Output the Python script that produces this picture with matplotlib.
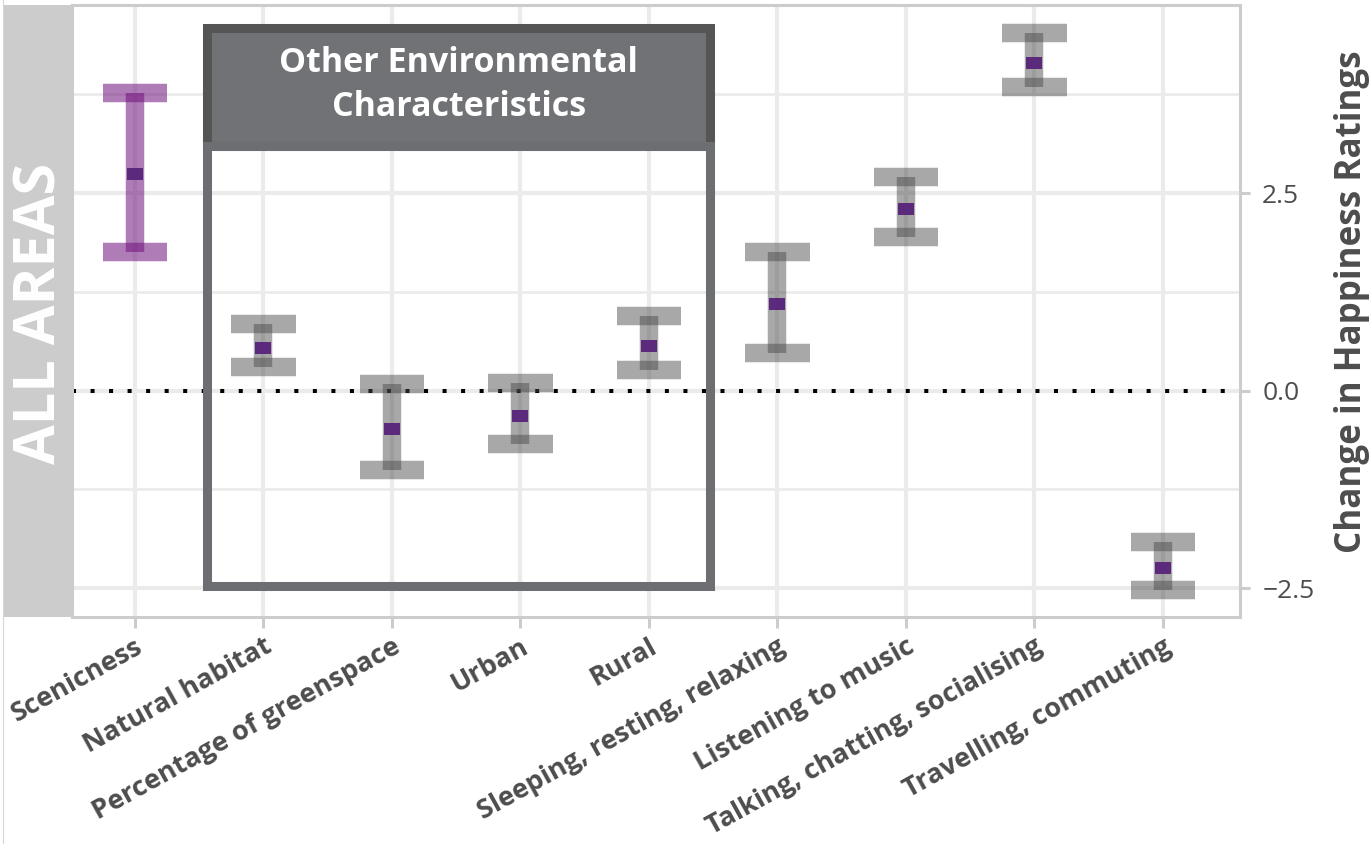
import matplotlib
matplotlib.use("Agg")
import matplotlib.pyplot as plt
from matplotlib.patches import Rectangle
from matplotlib.lines import Line2D
import numpy as np

# ---------------- data ----------------
categories = ["Scenicness", "Natural habitat", "Percentage of greenspace", "Urban", "Rural",
              "Sleeping, resting, relaxing", "Listening to music",
              "Talking, chatting, socialising", "Travelling, commuting"]
means = [2.74, 0.54, -0.49, -0.32, 0.57, 1.10, 2.30, 4.15, -2.24]
lower = [1.76, 0.30, -1.00, -0.67, 0.26, 0.48, 1.95, 3.84, -2.52]
upper = [3.77, 0.84, 0.09, 0.10, 0.95, 1.76, 2.71, 4.53, -1.91]
highlighted = ["Scenicness"]
box_members = ["Natural habitat", "Percentage of greenspace", "Urban", "Rural"]

y_ticks = [-2.5, 0.0, 2.5]
y_tick_labels = ["\u22122.5", "0.0", "2.5"]
y_minor = [-1.25, 1.25, 3.75]
y_label = "Change in Happiness Ratings"
strip_label = "ALL AREAS"
box_title = "Other Environmental\nCharacteristics"

# ---------------- style ----------------
W, H = 1369, 844
FONT = "Open Sans"
plt.rcParams["font.family"] = [FONT, "DejaVu Sans"]
TXT = "#4d4d4d"
GRID = "#ebebeb"
BORDER = "#cccccc"
GREY_BAR, GREY_ALPHA = "#474747", 0.47
PURPLE_BAR, PURPLE_ALPHA = "#6e0e7b", 0.54
MEAN_COL = "#5c2a7c"

fig = plt.figure(figsize=(W / 100, H / 100), dpi=100)
ax = fig.add_axes([72 / W, 1 - 617 / H, (1240 - 72) / W, (617 - 5) / H])

x = np.arange(len(categories))
ax.set_xlim(-0.49, 8.6)
ax.set_ylim(-2.865, 4.882)

ax.set_axisbelow(True)
ax.set_xticks(x)
ax.set_xticklabels(categories, rotation=29, ha="right", va="top",
                   rotation_mode="anchor", fontsize=19.5, fontweight="bold", color=TXT)
ax.set_yticks(y_ticks)
ax.set_yticklabels(y_tick_labels, fontsize=19, color=TXT)
ax.set_yticks(y_minor, minor=True)
ax.yaxis.tick_right()
ax.tick_params(axis="x", which="major", length=8, width=2.2, color=BORDER, pad=4)
ax.tick_params(axis="y", which="major", length=7, width=2.2, color=BORDER, pad=9)
ax.tick_params(which="minor", length=0)
ax.grid(which="major", color=GRID, lw=3)
ax.grid(which="minor", axis="y", color=GRID, lw=2)
for s in ax.spines.values():
    s.set_color(BORDER)
    s.set_linewidth(2.2)

# zero line
ax.axhline(0, color="black", lw=2.9, ls=(0, (1, 3.6)), zorder=1.5)

# error bars
for xi, cat, lo, hi in zip(x, categories, lower, upper):
    if cat in highlighted:
        col, a = PURPLE_BAR, PURPLE_ALPHA
    else:
        col, a = GREY_BAR, GREY_ALPHA
    ax.vlines(xi, lo, hi, colors=col, linewidth=13.3, alpha=a, capstyle="butt", zorder=3)
    ax.hlines([lo, hi], xi - 0.25, xi + 0.25, colors=col, linewidth=13.3, alpha=a,
              capstyle="butt", zorder=3)

rect_marker = [(-1, -0.75), (1, -0.75), (1, 0.75), (-1, 0.75), (-1, -0.75)]
ax.plot(x, means, ls="none", marker=rect_marker, ms=11.5, mew=0, color=MEAN_COL, zorder=5)

# box of other environmental characteristics
i0 = categories.index(box_members[0])
i1 = categories.index(box_members[-1])
bx0, bx1 = i0 - 0.436, i1 + 0.478
top, hdr_bottom, bottom = 4.594, 3.097, -2.472
ax.add_patch(Rectangle((bx0, hdr_bottom), bx1 - bx0, top - hdr_bottom,
                       fc="#717276", ec="#555555", lw=6.5, zorder=2.2))
ax.add_patch(Rectangle((bx0, bottom), bx1 - bx0, hdr_bottom - bottom,
                       fc="none", ec="#6d6e71", lw=6.5, zorder=2.3))
ax.text((bx0 + bx1) / 2, (top + hdr_bottom) / 2 + 0.02, box_title, ha="center", va="center",
        color="white", fontsize=24.5, fontweight="bold", linespacing=1.38, zorder=2.4)

# left strip
fig.add_artist(Rectangle((3 / W, 1 - 617 / H), (72 - 3) / W, 612 / H,
                         transform=fig.transFigure, fc="#cccccc", ec="none"))
fig.text(41 / W, 1 - 313 / H, strip_label, rotation=90, ha="center", va="center",
         color="white", fontsize=41.5, fontweight="bold")
fig.add_artist(Line2D([2.5 / W, 2.5 / W], [0, 1], transform=fig.transFigure,
                      color="#d6d6d6", lw=0.8))

# y axis title
fig.text(1352 / W, 1 - 302 / H, y_label, rotation=90, ha="center", va="center",
         color=TXT, fontsize=25.2, fontweight="bold")

fig.savefig("out.png", dpi=100)
